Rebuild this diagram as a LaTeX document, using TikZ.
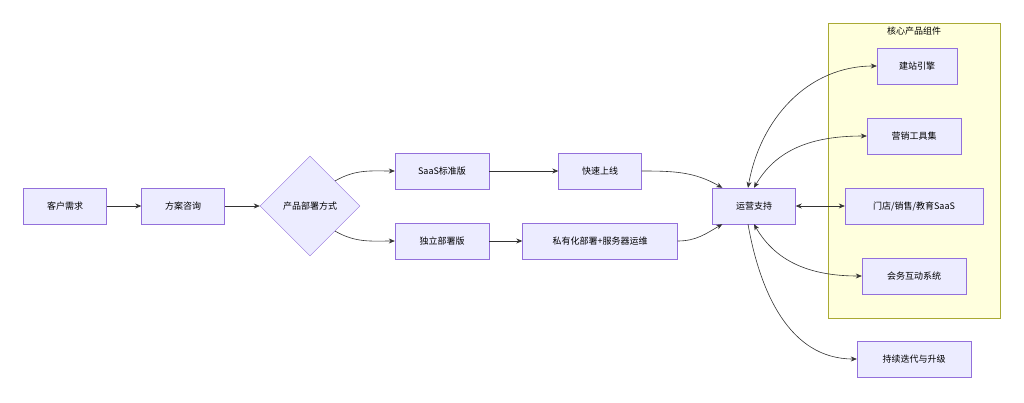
\documentclass[tikz,border=0pt]{standalone}
\usepackage{fontspec}
\setmainfont{Noto Sans CJK SC}
\usetikzlibrary{shapes.geometric,arrows.meta}
\definecolor{boxfill}{HTML}{ECECFF}
\definecolor{boxline}{HTML}{9370DB}
\definecolor{clfill}{HTML}{FFFFDE}
\definecolor{clline}{HTML}{AAAA33}
\definecolor{edge}{HTML}{333333}
\begin{document}
\begin{tikzpicture}[x=1pt,y=-1pt,font=\fontsize{9}{11}\selectfont]
\tikzstyle{flowbox} = [rectangle, fill=boxfill, draw=boxline, minimum height=36pt, inner xsep=14pt]
\tikzstyle{choice} = [diamond, aspect=1, fill=boxfill, draw=boxline, minimum width=100pt, inner sep=0pt]
\tikzstyle{link} = [draw=edge, line width=0.6pt, -{Stealth[length=6pt,width=5pt]}]
\tikzstyle{both} = [draw=edge, line width=0.6pt, {Stealth[length=6pt,width=5pt]}-{Stealth[length=6pt,width=5pt]}]
\useasboundingbox (0,0) rectangle (1024,402);

\draw[fill=clfill, draw=clline] (828,23) rectangle (1000,318);
\node(clusterTitle) at (914,31) {核心产品组件};

\node(demand) [flowbox, minimum width=83pt] at (65,206) {客户需求};
\node(consult) [flowbox, minimum width=83pt] at (183,206) {方案咨询};
\node(deploy) [choice, minimum width=100pt, minimum height=100pt] at (310,206) {产品部署方式};
\node(saas) [flowbox, minimum width=94pt] at (442,171) {SaaS标准版};
\node(standalone) [flowbox, minimum width=94pt] at (442,241) {独立部署版};
\node(fast) [flowbox, minimum width=83pt] at (600,171) {快速上线};
\node(private) [flowbox, minimum width=155pt] at (600,241) {私有化部署+服务器运维};
\node(ops) [flowbox, minimum width=83pt] at (754,206) {运营支持};
\node(builder) [flowbox, minimum width=80pt] at (917,66) {建站引擎};
\node(marketing) [flowbox, minimum width=94pt] at (914,136) {营销工具集};
\node(stores) [flowbox, minimum width=138pt] at (914,206) {门店/销售/教育SaaS};
\node(meeting) [flowbox, minimum width=104pt] at (914,276) {会务互动系统};
\node(iterate) [flowbox, minimum width=114pt] at (914,359) {持续迭代与升级};

\draw[link] (deploy.north east) to[out=30,in=180] (saas.west);
\draw[link] (demand) -- (consult);
\draw[link] (consult) -- (deploy);
\draw[link] (deploy.south east) to[out=-30,in=180] (standalone.west);
\draw[link] (saas) -- (fast);
\draw[link] (standalone) -- (private);
\draw[link] (fast.east) to[out=0,in=150] ([xshift=10pt]ops.north west);
\draw[link] (private.east) to[out=0,in=-150] ([xshift=10pt]ops.south west);
\draw[both] ([xshift=-6pt]ops.north) to[out=80,in=180] (builder.west);
\draw[both] ([xshift=0pt]ops.north) to[out=60,in=180] (marketing.west);
\draw[both] (ops) -- (stores);
\draw[both] ([xshift=0pt]ops.south) to[out=-60,in=180] (meeting.west);
\draw[link] ([xshift=-6pt]ops.south) to[out=-80,in=180] (iterate.west);
\end{tikzpicture}
\end{document}
